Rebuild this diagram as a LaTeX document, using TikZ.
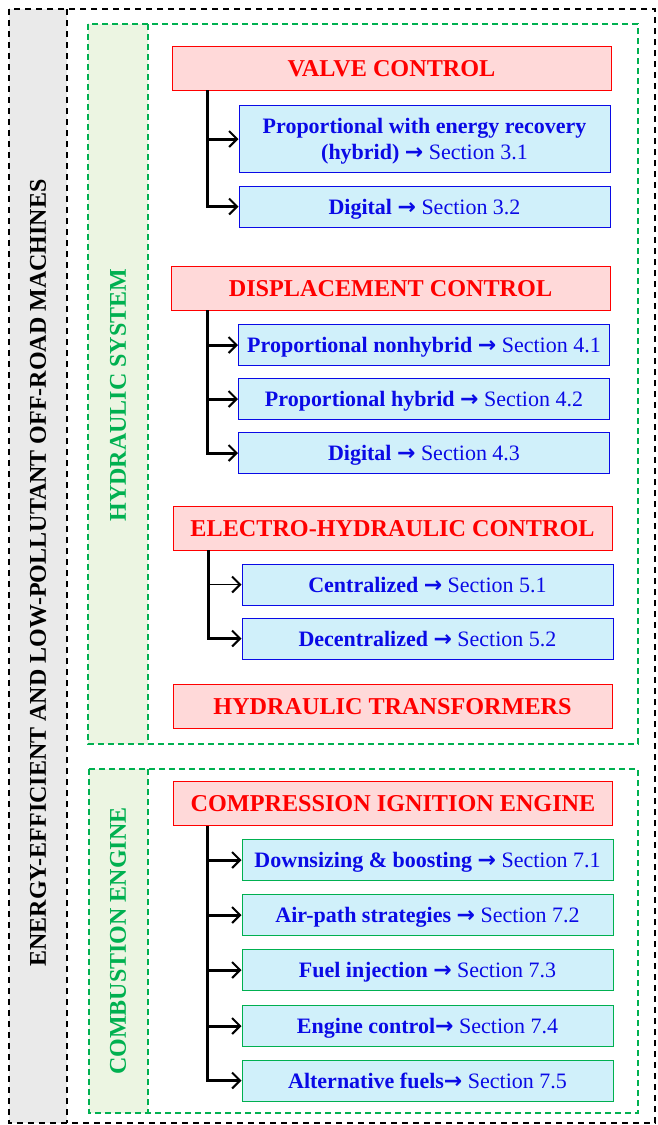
\documentclass[tikz,border=0pt]{standalone}
\usepackage{fontspec}
\setmainfont{Liberation Serif}
\newfontfamily\arrowfont{DejaVu Sans}
\usetikzlibrary{arrows.meta}
\definecolor{hdrred}{RGB}{255,0,0}
\definecolor{hdrfill}{RGB}{255,217,217}
\definecolor{subblue}{RGB}{10,10,230}
\definecolor{subfill}{RGB}{208,240,250}
\definecolor{grpgreen}{RGB}{0,176,80}
\definecolor{grpfill}{RGB}{236,245,226}
\definecolor{sidegrey}{RGB}{234,234,234}
\newcommand{\arw}{{\arrowfont\bfseries →}}

\begin{document}
\begin{tikzpicture}[x=1pt,y=-1pt,
  hdr/.style={draw=hdrred,fill=hdrfill,text=hdrred,line width=1pt,
    minimum width=439pt,minimum height=44pt,text depth=0pt,
    font=\fontsize{24.2}{28}\selectfont\bfseries},
  sub/.style={draw=subblue,fill=subfill,text=subblue,line width=1pt,
    minimum width=371pt,minimum height=41pt,align=center,text depth=0pt,
    font=\fontsize{22}{26}\selectfont},
  eng/.style={sub,draw=grpgreen},
  grp/.style={draw=grpgreen,dash pattern=on 6pt off 4pt,line width=1.5pt},
  side/.style={draw=black,dash pattern=on 6pt off 5pt,line width=1.5pt},
  vtitle/.style={rotate=90,font=\fontsize{24}{28}\selectfont\bfseries},
  br/.style={line width=3pt},
  ar/.style={br,-{Straight Barb[length=8pt,width=16pt,line width=2pt]}}]
  \useasboundingbox[fill=white] (0,0) rectangle (657,1125);

  % outer frame and title column
  \fill[sidegrey] (9,9) rectangle (67,1123);
  \draw[side] (9,9) rectangle (655,1123);
  \draw[side] (67,9) -- (67,1123);
  \node[vtitle] (title) at (38,573)
    {ENERGY-EFFICIENT AND LOW-POLLUTANT OFF-ROAD MACHINES};

  % hydraulic group
  \fill[grpfill] (88,24) rectangle (148,744);
  \draw[grp] (88,24) rectangle (638,744);
  \draw[grp] (148,24) -- (148,744);
  \node[vtitle,text=grpgreen] (hyd) at (118,395) {HYDRAULIC SYSTEM};

  % combustion group
  \fill[grpfill] (89,769) rectangle (148,1113);
  \draw[grp] (89,769) rectangle (638,1113);
  \draw[grp] (148,769) -- (148,1113);
  \node[vtitle,text=grpgreen] (comb) at (118,941) {COMBUSTION ENGINE};

  % valve control
  \node[hdr] (valve) at (391.5,68) {VALVE CONTROL};
  \node[sub,minimum height=67pt] (vprop) at (424.5,139)
    {\textbf{Proportional with energy recovery}\\\textbf{(hybrid)} \arw{} Section 3.1};
  \node[sub] (vdig) at (424.5,206.5) {\textbf{Digital} \arw{} Section 3.2};
  \coordinate (vt) at (207,90);
  \draw[ar] (vt) |- (vprop);
  \draw[ar] (vt) |- (vdig);

  % displacement control
  \node[hdr] (disp) at (390.5,288) {DISPLACEMENT CONTROL};
  \node[sub] (dnon) at (424,345) {\textbf{Proportional nonhybrid} \arw{} Section 4.1};
  \node[sub] (dhyb) at (424,399) {\textbf{Proportional hybrid} \arw{} Section 4.2};
  \node[sub] (ddig) at (424,453) {\textbf{Digital} \arw{} Section 4.3};
  \coordinate (dt) at (207,310);
  \draw[ar] (dt) |- (dnon);
  \draw[ar] (dt) |- (dhyb);
  \draw[ar] (dt) |- (ddig);

  % electro-hydraulic control
  \node[hdr] (elec) at (392.5,528) {ELECTRO-HYDRAULIC CONTROL};
  \node[sub] (ecen) at (427.5,584.5) {\textbf{Centralized} \arw{} Section 5.1};
  \node[sub] (edec) at (427.5,638.5) {\textbf{Decentralized} \arw{} Section 5.2};
  \coordinate (et) at (208,550);
  \draw[ar] (et) |- (edec);
  \draw[ar,line width=1pt] (et |- ecen) -- (ecen);

  \node[hdr] (trans) at (392.5,706.5) {HYDRAULIC TRANSFORMERS};

  % compression ignition engine
  \node[hdr] (ci) at (393,803.5) {COMPRESSION IGNITION ENGINE};
  \node[eng] (size) at (427.5,860) {\textbf{Downsizing \& boosting} \arw{} Section 7.1};
  \node[eng] (air)  at (427.5,915) {\textbf{Air-path strategies} \arw{} Section 7.2};
  \node[eng] (fuel) at (427.5,970) {\textbf{Fuel injection} \arw{} Section 7.3};
  \node[eng] (ctrl) at (427.5,1026) {\textbf{Engine control}\arw{} Section 7.4};
  \node[eng] (alt)  at (427.5,1080.5) {\textbf{Alternative fuels}\arw{} Section 7.5};
  \coordinate (ct) at (207,826);
  \foreach \n in {size,air,fuel,ctrl,alt}
    \draw[ar] (ct) |- (\n);
\end{tikzpicture}
\end{document}
